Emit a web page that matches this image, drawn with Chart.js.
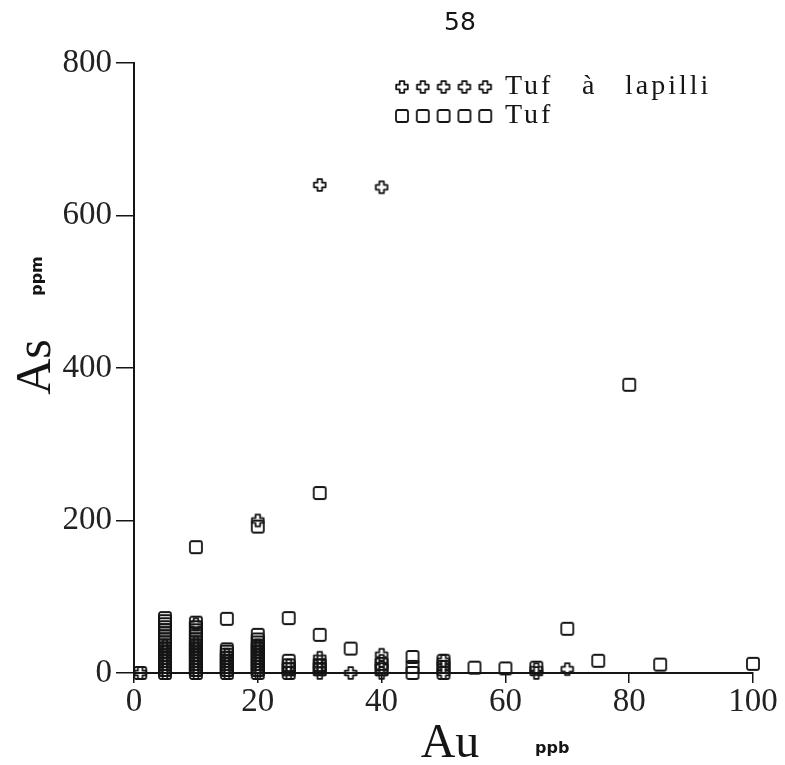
<!DOCTYPE html>
<html>
<head>
<meta charset="utf-8">
<script src="https://cdn.jsdelivr.net/npm/chart.js@4.4.0/dist/chart.umd.min.js"></script>
<style>
  html, body { margin: 0; padding: 0; background: #fff; }
  #wrap { width: 785px; height: 765px; }
</style>
</head>
<body>
<div id="wrap"><canvas id="scatterChart"></canvas></div>
<script>
// Au (ppb) vs As (ppm), one column of values per Au level
const lapilliAu = [1,
  5, 5, 5, 5, 5, 5, 5, 5, 5, 5,
  10, 10, 10, 10, 10, 10, 10, 10, 10, 10, 10, 10,
  15, 15, 15, 15, 15, 15, 15,
  20, 20, 20, 20, 20, 20, 20, 20, 20, 20, 20,
  25, 25, 25,
  30, 30, 30, 30, 30, 30,
  35,
  40, 40, 40, 40, 40,
  50, 50, 50,
  65, 65,
  70];
const lapilliAs = [0,
  0, 4, 8, 12, 16, 20, 24, 28, 32, 36,
  0, 4, 8, 12, 16, 20, 24, 28, 32, 36, 40, 64,
  0, 4, 8, 12, 16, 20, 24,
  0, 4, 8, 12, 16, 20, 24, 28, 32, 36, 200,
  0, 5, 10,
  0, 5, 10, 15, 20, 640,
  0,
  0, 8, 16, 24, 637,
  0, 8, 16,
  0, 5,
  5];

const tufAu = [1,
  5, 5, 5, 5, 5, 5, 5, 5, 5, 5, 5, 5, 5, 5, 5, 5, 5, 5, 5,
  10, 10, 10, 10, 10, 10, 10, 10, 10, 10, 10, 10, 10, 10, 10, 10, 10, 10,
  15, 15, 15, 15, 15, 15, 15, 15, 15, 15,
  20, 20, 20, 20, 20, 20, 20, 20, 20, 20, 20, 20, 20, 20,
  25, 25, 25, 25, 25,
  30, 30, 30, 30,
  35,
  40, 40,
  45, 45, 45,
  50, 50, 50,
  55, 60, 65, 70, 75, 80, 85, 100];
const tufAs = [0,
  0, 4, 8, 12, 16, 20, 24, 28, 32, 36, 40, 44, 48, 52, 56, 60, 64, 68, 72,
  0, 4, 8, 12, 16, 20, 24, 28, 32, 36, 40, 44, 48, 52, 56, 60, 66, 165,
  0, 4, 8, 12, 16, 20, 24, 28, 31, 71,
  0, 4, 8, 12, 16, 20, 24, 28, 32, 36, 40, 44, 50, 192,
  0, 5, 10, 16, 72,
  5, 10, 50, 236,
  32,
  5, 12,
  0, 8, 21,
  0, 8, 16,
  7, 6, 7, 58, 16, 378, 11, 12];

const seriesNames = ['Tuf à lapilli', 'Tuf'];
const xTicks = [0, 20, 40, 60, 80, 100];
const yTicks = [0, 200, 400, 600, 800];

const ink = '#151515';

// hollow marker glyphs, like the plotter ones
function makeSquare() {
  const c = document.createElement('canvas');
  c.width = 16; c.height = 16;
  const g = c.getContext('2d');
  g.strokeStyle = ink;
  g.lineWidth = 1.8;
  g.lineJoin = 'round';
  g.beginPath();
  g.roundRect(2, 2, 12, 12, 2);
  g.stroke();
  return c;
}

function makeCross() {
  const c = document.createElement('canvas');
  c.width = 16; c.height = 16;
  const g = c.getContext('2d');
  g.translate(8, 8);
  g.strokeStyle = ink;
  g.lineWidth = 1.8;
  g.lineJoin = 'round';
  const a = 2.3, r = 5.8;
  g.beginPath();
  g.moveTo(-a, -r); g.lineTo(a, -r); g.lineTo(a, -a); g.lineTo(r, -a);
  g.lineTo(r, a); g.lineTo(a, a); g.lineTo(a, r); g.lineTo(-a, r);
  g.lineTo(-a, a); g.lineTo(-r, a); g.lineTo(-r, -a); g.lineTo(-a, -a);
  g.closePath();
  g.stroke();
  return c;
}

const squareImg = makeSquare();
const crossImg = makeCross();

function toPoints(xs, ys) {
  return xs.map((x, i) => ({ x: x, y: ys[i] }));
}

// texts around the plot: page number, axis titles, legend
const decorations = {
  id: 'decorations',
  beforeDraw(chart) {
    const ctx = chart.ctx;
    ctx.save();
    ctx.fillStyle = '#fff';
    ctx.fillRect(0, 0, chart.width, chart.height);
    ctx.restore();
  },
  afterDraw(chart) {
    const ctx = chart.ctx;
    ctx.save();
    ctx.fillStyle = ink;

    // page number
    ctx.font = '25px "DejaVu Sans"';
    ctx.textAlign = 'center';
    ctx.textBaseline = 'middle';
    ctx.fillText('58', 460, 23);

    // x title
    ctx.font = '48px "Liberation Serif"';
    ctx.textBaseline = 'alphabetic';
    ctx.fillText('Au', 450, 757);
    ctx.font = 'bold 16px "DejaVu Sans"';
    ctx.textAlign = 'left';
    ctx.fillText('ppb', 535, 753);

    // y title (rotated)
    ctx.save();
    ctx.translate(50, 367);
    ctx.rotate(-Math.PI / 2);
    ctx.font = '50px "Liberation Serif"';
    ctx.textAlign = 'center';
    ctx.fillText('As', 0, 0);
    ctx.restore();
    ctx.save();
    ctx.translate(42, 276);
    ctx.rotate(-Math.PI / 2);
    ctx.font = 'bold 16px "DejaVu Sans"';
    ctx.textAlign = 'center';
    ctx.fillText('ppm', 0, 0);
    ctx.restore();

    // legend, five markers per row
    const rows = [
      { img: crossImg, y: 87 },
      { img: squareImg, y: 116 }
    ];
    ctx.font = '28px "Liberation Serif"';
    ctx.textAlign = 'left';
    ctx.textBaseline = 'alphabetic';
    ctx.letterSpacing = '3px';
    rows.forEach((row, r) => {
      for (let i = 0; i < 5; i++) {
        ctx.drawImage(row.img, 402 + i * 20.8 - 8, row.y - 8);
      }
      const words = seriesNames[r].split(' ');
      const xs = [505, 582, 625];
      words.forEach((w, i) => ctx.fillText(w, xs[i], row.y + 7));
    });
    ctx.restore();
  }
};

const ctx = document.getElementById('scatterChart').getContext('2d');
const chart = new Chart(ctx, {
  type: 'scatter',
  data: {
    datasets: [{
      label: seriesNames[1],
      data: toPoints(tufAu, tufAs),
      pointStyle: squareImg,
      pointRadius: 7,
      clip: false
    }, {
      label: seriesNames[0],
      data: toPoints(lapilliAu, lapilliAs),
      pointStyle: crossImg,
      pointRadius: 7,
      clip: false
    }]
  },
  options: {
    responsive: true,
    maintainAspectRatio: false,
    animation: false,
    layout: { padding: { top: 63, right: 32, left: 0, bottom: 0 } },
    plugins: {
      legend: { display: false },
      tooltip: { enabled: false }
    },
    scales: {
      x: {
        type: 'linear',
        min: 0,
        max: 100,
        afterBuildTicks: s => { s.ticks = xTicks.map(v => ({ value: v })); },
        afterFit: s => { s.height = 92; },
        ticks: {
          font: { family: 'Liberation Serif', size: 33 },
          color: '#222',
          padding: 0,
          maxRotation: 0
        },
        grid: { drawOnChartArea: false, drawTicks: true, tickLength: 10, color: ink, lineWidth: 1.5 },
        border: { display: true, color: ink, width: 2 }
      },
      y: {
        type: 'linear',
        min: 0,
        max: 800,
        afterBuildTicks: s => { s.ticks = yTicks.map(v => ({ value: v })); },
        afterFit: s => { s.width = 134; },
        ticks: {
          font: { family: 'Liberation Serif', size: 33 },
          color: '#222',
          padding: 4
        },
        grid: { drawOnChartArea: false, drawTicks: true, tickLength: 18, color: ink, lineWidth: 1.5 },
        border: { display: true, color: ink, width: 2 }
      }
    }
  },
  plugins: [decorations]
});
</script>
</body>
</html>
